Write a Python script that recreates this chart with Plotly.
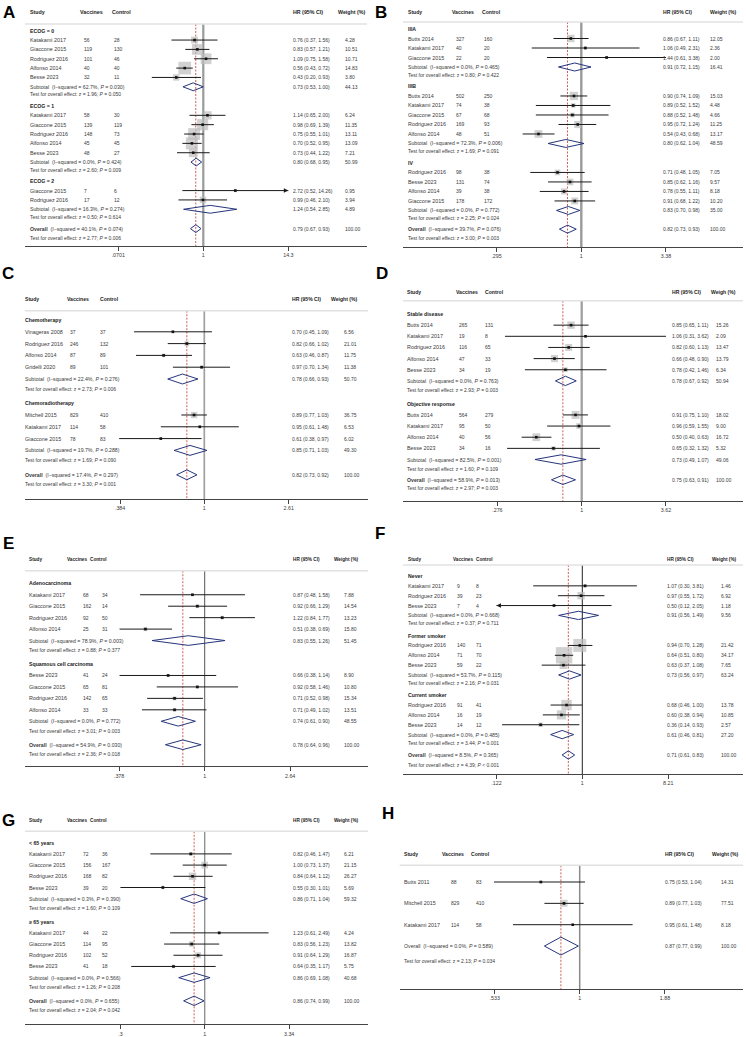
import math
import plotly.graph_objects as go

W, H = 746, 1037
FONT = "Liberation Sans, Arial, Helvetica, sans-serif"

# ---------------- DATA ----------------
# Panel A : ECOG
A_groups = ["ECOG = 0", "ECOG = 1", "ECOG = 2"]
A_study = ["Katakami 2017", "Giaccone 2015", "Rodriguez 2016", "Alfonso 2014", "Besse 2023",
           "Katakami 2017", "Giaccone 2015", "Rodriguez 2016", "Alfonso 2014", "Besse 2023",
           "Giaccone 2015", "Rodriguez 2016"]
A_gidx = [0, 0, 0, 0, 0, 1, 1, 1, 1, 1, 2, 2]
A_vac = [56, 119, 101, 40, 32, 58, 139, 148, 45, 48, 7, 17]
A_ctl = [28, 130, 46, 40, 11, 30, 119, 73, 45, 27, 6, 12]
A_hr = [0.76, 0.83, 1.09, 0.56, 0.43, 1.14, 0.98, 0.75, 0.70, 0.73, 2.72, 0.99]
A_lo = [0.37, 0.57, 0.75, 0.43, 0.20, 0.65, 0.69, 0.55, 0.52, 0.44, 0.52, 0.46]
A_hi = [1.56, 1.21, 1.58, 0.72, 0.93, 2.00, 1.39, 1.01, 0.95, 1.22, 14.26, 2.10]
A_wt = [4.28, 10.51, 10.71, 14.83, 3.80, 6.24, 11.35, 13.11, 13.09, 7.21, 0.95, 3.94]
A_sub_hr = [0.73, 0.80, 1.24]
A_sub_lo = [0.53, 0.68, 0.54]
A_sub_hi = [1.00, 0.95, 2.85]
A_sub_wt = [44.13, 50.99, 4.89]
A_sub_i2 = [62.7, 0.0, 16.3]
A_sub_phet = ["0.030", "0.424", "0.274"]
A_sub_z = [1.96, 2.60, 0.50]
A_sub_pz = ["0.050", "0.009", "0.614"]
A_overall = [0.79, 0.67, 0.93, 100.00]
A_overall_stats = [40.1, "0.074", 2.77, "0.006"]
A_ticks = [0.0701, 1, 14.26]
A_ticklabels = [".0701", "1", "14.3"]

# Panel B : stage
B_groups = ["IIIA", "IIIB", "IV"]
B_study = ["Butts 2014", "Katakami 2017", "Giaccone 2015",
           "Butts 2014", "Katakami 2017", "Giaccone 2015", "Rodriguez 2016", "Alfonso 2014",
           "Rodriguez 2016", "Besse 2023", "Alfonso 2014", "Giaccone 2015"]
B_gidx = [0, 0, 0, 1, 1, 1, 1, 1, 2, 2, 2, 2]
B_vac = [327, 40, 22, 502, 74, 67, 169, 48, 98, 131, 39, 178]
B_ctl = [160, 20, 20, 250, 38, 68, 93, 51, 38, 74, 38, 172]
B_hr = [0.86, 1.06, 1.44, 0.90, 0.89, 0.88, 0.95, 0.54, 0.71, 0.85, 0.78, 0.91]
B_lo = [0.67, 0.49, 0.61, 0.74, 0.52, 0.52, 0.72, 0.43, 0.48, 0.62, 0.55, 0.68]
B_hi = [1.11, 2.31, 3.38, 1.09, 1.52, 1.48, 1.24, 0.68, 1.05, 1.16, 1.11, 1.22]
B_wt = [12.05, 2.36, 2.00, 15.03, 4.48, 4.66, 11.25, 13.17, 7.05, 9.57, 8.18, 10.20]
B_sub_hr = [0.91, 0.80, 0.83]
B_sub_lo = [0.72, 0.62, 0.70]
B_sub_hi = [1.15, 1.04, 0.98]
B_sub_wt = [16.41, 48.59, 35.00]
B_sub_i2 = [0.0, 72.3, 0.0]
B_sub_phet = ["0.465", "0.006", "0.772"]
B_sub_z = [0.80, 1.69, 2.25]
B_sub_pz = ["0.422", "0.091", "0.024"]
B_overall = [0.82, 0.73, 0.93, 100.00]
B_overall_stats = [39.7, "0.076", 3.00, "0.003"]
B_ticks = [0.295, 1, 3.38]
B_ticklabels = [".295", "1", "3.38"]

# Panel C : treatment
C_groups = ["Chemotherapy", "Chemoradiotherapy"]
C_study = ["Vinageras 2008", "Rodriguez 2016", "Alfonso 2014", "Gridelli 2020",
           "Mitchell 2015", "Katakami 2017", "Giaccone 2015"]
C_gidx = [0, 0, 0, 0, 1, 1, 1]
C_vac = [37, 246, 87, 89, 829, 114, 78]
C_ctl = [37, 132, 89, 101, 410, 58, 83]
C_hr = [0.70, 0.82, 0.63, 0.97, 0.89, 0.95, 0.61]
C_lo = [0.45, 0.66, 0.46, 0.70, 0.77, 0.61, 0.38]
C_hi = [1.09, 1.02, 0.87, 1.34, 1.03, 1.48, 0.97]
C_wt = [6.56, 21.01, 11.75, 11.38, 36.75, 6.53, 6.02]
C_sub_hr = [0.78, 0.85]
C_sub_lo = [0.66, 0.71]
C_sub_hi = [0.93, 1.03]
C_sub_wt = [50.70, 49.30]
C_sub_i2 = [22.4, 19.7]
C_sub_phet = ["0.276", "0.288"]
C_sub_z = [2.73, 1.69]
C_sub_pz = ["0.006", "0.090"]
C_overall = [0.82, 0.73, 0.92, 100.00]
C_overall_stats = [17.4, "0.297", 3.30, "0.001"]
C_ticks = [0.384, 1, 2.61]
C_ticklabels = [".384", "1", "2.61"]

# Panel D : response
D_groups = ["Stable disease", "Objective response"]
D_study = ["Butts 2014", "Katakami 2017", "Rodriguez 2016", "Alfonso 2014", "Besse 2023",
           "Butts 2014", "Katakami 2017", "Alfonso 2014", "Besse 2023"]
D_gidx = [0, 0, 0, 0, 0, 1, 1, 1, 1]
D_vac = [265, 19, 116, 47, 34, 564, 95, 40, 34]
D_ctl = [131, 8, 65, 33, 19, 279, 50, 56, 16]
D_hr = [0.85, 1.06, 0.82, 0.66, 0.78, 0.91, 0.96, 0.50, 0.65]
D_lo = [0.65, 0.31, 0.60, 0.48, 0.42, 0.75, 0.59, 0.40, 0.32]
D_hi = [1.11, 3.62, 1.13, 0.90, 1.46, 1.10, 1.55, 0.63, 1.32]
D_wt = [15.26, 2.09, 13.47, 13.79, 6.34, 18.02, 9.00, 16.72, 5.32]
D_sub_hr = [0.78, 0.73]
D_sub_lo = [0.67, 0.49]
D_sub_hi = [0.92, 1.07]
D_sub_wt = [50.94, 49.06]
D_sub_i2 = [0.0, 82.5]
D_sub_phet = ["0.763", "0.001"]
D_sub_z = [2.93, 1.60]
D_sub_pz = ["0.003", "0.109"]
D_overall = [0.75, 0.63, 0.91, 100.00]
D_overall_stats = [58.9, "0.013", 2.97, "0.003"]
D_ticks = [0.276, 1, 3.62]
D_ticklabels = [".276", "1", "3.62"]

# Panel E : histology
E_groups = ["Adenocarcinoma", "Squamous cell carcinoma"]
E_study = ["Katakami 2017", "Giaccone 2015", "Rodriguez 2016", "Alfonso 2014",
           "Besse 2023", "Giaccone 2015", "Rodriguez 2016", "Alfonso 2014"]
E_gidx = [0, 0, 0, 0, 1, 1, 1, 1]
E_vac = [68, 162, 92, 25, 41, 65, 142, 33]
E_ctl = [34, 14, 50, 31, 24, 81, 65, 33]
E_hr = [0.87, 0.92, 1.22, 0.51, 0.66, 0.92, 0.71, 0.71]
E_lo = [0.48, 0.66, 0.84, 0.38, 0.38, 0.58, 0.52, 0.49]
E_hi = [1.58, 1.29, 1.77, 0.69, 1.14, 1.46, 0.98, 1.02]
E_wt = [7.88, 14.54, 13.23, 15.80, 8.90, 10.80, 15.34, 13.51]
E_sub_hr = [0.83, 0.74]
E_sub_lo = [0.55, 0.61]
E_sub_hi = [1.26, 0.90]
E_sub_wt = [51.45, 48.55]
E_sub_i2 = [78.9, 0.0]
E_sub_phet = ["0.003", "0.772"]
E_sub_z = [0.88, 3.01]
E_sub_pz = ["0.377", "0.003"]
E_overall = [0.78, 0.64, 0.96, 100.00]
E_overall_stats = [54.9, "0.030", 2.36, "0.018"]
E_ticks = [0.378, 1, 2.64]
E_ticklabels = [".378", "1", "2.64"]

# Panel F : smoking
F_groups = ["Never", "Former smoker", "Current smoker"]
F_study = ["Katakami 2017", "Rodriguez 2016", "Besse 2023",
           "Rodriguez 2016", "Alfonso 2014", "Besse 2023",
           "Rodriguez 2016", "Alfonso 2014", "Besse 2023"]
F_gidx = [0, 0, 0, 1, 1, 1, 2, 2, 2]
F_vac = [9, 39, 7, 140, 71, 59, 91, 16, 14]
F_ctl = [8, 23, 4, 71, 70, 22, 41, 19, 12]
F_hr = [1.07, 0.97, 0.50, 0.94, 0.64, 0.63, 0.68, 0.60, 0.36]
F_lo = [0.30, 0.55, 0.12, 0.70, 0.51, 0.37, 0.46, 0.38, 0.14]
F_hi = [3.81, 1.72, 2.05, 1.28, 0.80, 1.08, 1.00, 0.94, 0.93]
F_wt = [1.46, 6.92, 1.18, 21.42, 34.17, 7.65, 13.78, 10.85, 2.57]
F_sub_hr = [0.91, 0.73, 0.61]
F_sub_lo = [0.56, 0.56, 0.46]
F_sub_hi = [1.49, 0.97, 0.81]
F_sub_wt = [9.56, 63.24, 27.20]
F_sub_i2 = [0.0, 53.7, 0.0]
F_sub_phet = ["0.668", "0.115", "0.485"]
F_sub_z = [0.37, 2.16, 3.44]
F_sub_pz = ["0.711", "0.031", "0.001"]
F_overall = [0.71, 0.61, 0.83, 100.00]
F_overall_stats = [8.5, "0.365", 4.39, "<0.001"]
F_ticks = [0.122, 1, 8.21]
F_ticklabels = [".122", "1", "8.21"]

# Panel G : age
G_groups = ["&lt; 65 years", "≥ 65 years"]
G_study = ["Katakami 2017", "Giaccone 2015", "Rodriguez 2016", "Besse 2023",
           "Katakami 2017", "Giaccone 2015", "Rodriguez 2016", "Besse 2023"]
G_gidx = [0, 0, 0, 0, 1, 1, 1, 1]
G_vac = [72, 156, 168, 39, 44, 114, 102, 41]
G_ctl = [36, 167, 82, 20, 22, 95, 52, 18]
G_hr = [0.82, 1.00, 0.84, 0.55, 1.23, 0.83, 0.91, 0.64]
G_lo = [0.46, 0.73, 0.64, 0.30, 0.61, 0.56, 0.64, 0.35]
G_hi = [1.47, 1.37, 1.12, 1.01, 2.49, 1.23, 1.29, 1.17]
G_wt = [6.21, 21.15, 26.27, 5.69, 4.24, 13.82, 16.87, 5.75]
G_sub_hr = [0.86, 0.86]
G_sub_lo = [0.71, 0.69]
G_sub_hi = [1.04, 1.08]
G_sub_wt = [59.32, 40.68]
G_sub_i2 = [0.3, 0.0]
G_sub_phet = ["0.390", "0.566"]
G_sub_z = [1.60, 1.26]
G_sub_pz = ["0.109", "0.208"]
G_overall = [0.86, 0.74, 0.99, 100.00]
G_overall_stats = [0.0, "0.655", 2.04, "0.042"]
G_ticks = [0.3, 1, 3.34]
G_ticklabels = [".3", "1", "3.34"]

# Panel H : no subgroups
H_groups = []
H_study = ["Butts 2011", "Mitchell 2015", "Katakami 2017"]
H_gidx = [None, None, None]
H_vac = [88, 829, 114]
H_ctl = [83, 410, 58]
H_hr = [0.75, 0.89, 0.95]
H_lo = [0.53, 0.77, 0.61]
H_hi = [1.04, 1.03, 1.48]
H_wt = [14.31, 77.51, 8.18]
H_sub_hr, H_sub_lo, H_sub_hi, H_sub_wt = [], [], [], []
H_sub_i2, H_sub_phet, H_sub_z, H_sub_pz = [], [], [], []
H_overall = [0.87, 0.77, 0.99, 100.00]
H_overall_stats = [0.0, "0.589", 2.13, "0.034"]
H_ticks = [0.533, 1, 1.88]
H_ticklabels = [".533", "1", "1.88"]

# CIs truncated at the axis with an arrow: panel -> [(study index, side)]
ARROWS = {"A": [(10, "right")], "F": [(2, "left")]}
WEIGHT_HEADER = {"D": "Weigh (%)"}

DATA = {}
for key in "ABCDEFGH":
    g = globals()
    DATA[key] = dict(
        groups=g[key + "_groups"], study=g[key + "_study"], gidx=g[key + "_gidx"],
        vac=g[key + "_vac"], ctl=g[key + "_ctl"], hr=g[key + "_hr"], lo=g[key + "_lo"],
        hi=g[key + "_hi"], wt=g[key + "_wt"],
        sub_hr=g[key + "_sub_hr"], sub_lo=g[key + "_sub_lo"], sub_hi=g[key + "_sub_hi"],
        sub_wt=g[key + "_sub_wt"], sub_i2=g[key + "_sub_i2"], sub_phet=g[key + "_sub_phet"],
        sub_z=g[key + "_sub_z"], sub_pz=g[key + "_sub_pz"],
        overall=g[key + "_overall"], ostats=g[key + "_overall_stats"],
        ticks=g[key + "_ticks"], ticklabels=g[key + "_ticklabels"])

# ---------------- LAYOUT (pixels) ----------------
STRIPS = [(0, 258), (258, 518), (518, 777), (777, 1037)]
LAY = {
    "A": dict(row=0, L=25, R=367, C1=203.3, s=32, y0=30.7, u=9.35, hdr=12.3, line=24, axis=246,
              sp=(0.82, 1.23, 1.25, 0.95), k=3.3, null=("#9a9a9a", 2.2), hfs=5.3,
              cols=(29, 79, 111, 291.5, 336.7, 83.3, 113.3, 344.3), letter=(8.5, 12)),
    "B": dict(row=0, L=403, R=743, C1=581.3, s=69.5, y0=29, u=9.5, hdr=12.3, line=22, axis=247,
              sp=(0.82, 1.23, 1.15, 0.92), k=2.15, null=("#9a9a9a", 2.4), hfs=5.1,
              cols=(407.3, 451.3, 480.7, 662, 709, 454.7, 483, 709), letter=(381, 12)),
    "C": dict(row=1, L=25, R=368, C1=204.3, s=88, y0=320, u=11.8, hdr=299.3, line=310.7, axis=499,
              sp=(0.82, 1.23, 1.25, 0.8), k=1.05, null=("#a0a0a0", 1.7), hfs=5.1,
              cols=(24.3, 65.7, 99, 290.7, 330, 69, 99, 343.3), letter=(8, 273.5)),
    "D": dict(row=1, L=403, R=743, C1=581.7, s=65.5, y0=314, u=11.15, hdr=291.7, line=300.7, axis=501,
              sp=(0.82, 1.23, 1.0, 0.72), k=1.9, null=("#a0a0a0", 2.3), hfs=5.1,
              cols=(406.3, 455, 484, 670.7, 710.3, 458, 484, 714.7), letter=(382, 273.5)),
    "E": dict(row=2, L=25, R=368, C1=204.7, s=88, y0=583.3, u=11.45, hdr=559.3, line=570.7, axis=766.3,
              sp=(0.82, 1.23, 1.23, 0.79), k=1.0, null=("#555555", 1.0), hfs=4.7,
              cols=(28, 65.7, 89, 292.3, 333.3, 82.3, 101, 343.3), letter=(8.3, 543.7)),
    "F": dict(row=2, L=403, R=743, C1=582.3, s=40.8, y0=576, u=9.85, hdr=559.3, line=565, axis=774,
              sp=(0.82, 1.23, 1.25, 0.98), k=2.8, null=("#222222", 1.0), hfs=4.7,
              cols=(407.3, 452, 474.7, 666.3, 711.3, 456.3, 475.3, 719.7), letter=(380.2, 533.7)),
    "G": dict(row=3, L=25, R=368, C1=204.7, s=70, y0=842.7, u=11.2, hdr=820.7, line=831.3, axis=1024.3,
              sp=(0.82, 1.23, 1.25, 0.83), k=1.45, null=("#8a8a8a", 1.3), hfs=4.7,
              cols=(28, 65.7, 89, 292.3, 333.3, 82.3, 101, 343.3), letter=(8.5, 820.7)),
    "H": dict(row=3, L=399.7, R=743, C1=579.7, s=135, y0=882, u=21.35, hdr=854.3, line=865.3, axis=989,
              sp=(0.82, 1.23, 1.0, 0.7), k=0.8, null=("#8a8a8a", 1.5), hfs=5.1,
              cols=(403, 440.7, 469.7, 663.7, 710.7, 449.7, 474.7, 719.7), letter=(388.3, 813.3),
              overall_bold=False),
}

TXT = "#3a3a3a"
DARK = "#222222"
DIAM = "#26357c"
BOX = "#bdbdbd"
RED = "#c0392b"
FS = 5.4      # study names / labels
FS_NUM = 5.0  # numeric columns
FS_TEST = 5.2

fig = go.Figure()
annotations = []
shapes = []
layout_axes = {}


def fmt_ci(h, l, u):
    return f"{h:.2f} ({l:.2f}, {u:.2f})"


def fmt_p(p):
    return "<i>P</i> &lt; " + p[1:] if p.startswith("<") else "<i>P</i> = " + p


def add_text(text, xpx, yv, yref, size=FS, color=TXT, bold=False):
    if bold:
        text = "<b>" + text + "</b>"
    annotations.append(dict(text=text, x=xpx / W, xref="paper", y=yv, yref=yref,
                            showarrow=False, xanchor="left", yanchor="middle",
                            borderpad=0, font=dict(size=size, color=color, family=FONT)))


for n, key in enumerate("ABCDEFGH", start=1):
    d, p = DATA[key], LAY[key]
    xa = "x" if n == 1 else f"x{n}"
    ya = "y" if n == 1 else f"y{n}"
    xl = "xaxis" if n == 1 else f"xaxis{n}"
    yl = "yaxis" if n == 1 else f"yaxis{n}"
    y0, u = p["y0"], p["u"]
    top, bot = STRIPS[p["row"]]

    # row positions (in row units)
    sub_test, test_label, test_overall, overall_test = p["sp"]
    ng = len(d["groups"])
    label_v, sub_v, test_v = [], [], []
    study_v = [0.0] * len(d["study"])
    v = 0.0
    if ng:
        for gi in range(ng):
            label_v.append(v)
            v += 1
            for i, g in enumerate(d["gidx"]):
                if g == gi:
                    study_v[i] = v
                    v += 1
            sub_v.append(v)
            t = v + sub_test
            test_v.append(t)
            v = t + test_label
        overall_v = test_v[-1] + test_overall
    else:
        for i in range(len(d["study"])):
            study_v[i] = v
            v += 1
        overall_v = v - 1 + test_overall
    otest_v = overall_v + overall_test

    def pxv(py):
        return (py - y0) / u

    line_v, axis_v = pxv(p["line"]), pxv(p["axis"])

    # axes
    lnL = (p["L"] - p["C1"]) / p["s"]
    lnR = (p["R"] - p["C1"]) / p["s"]
    layout_axes[xl] = dict(type="log", domain=[p["L"] / W, p["R"] / W],
                           range=[lnL / math.log(10), lnR / math.log(10)],
                           anchor="free", position=1 - p["axis"] / H,
                           showline=True, linecolor="#444444", linewidth=1,
                           ticks="outside", ticklen=4, tickwidth=1, tickcolor="#444444",
                           tickvals=d["ticks"], ticktext=d["ticklabels"],
                           tickfont=dict(size=5.3, color=TXT, family=FONT),
                           showgrid=False, zeroline=False, fixedrange=True)
    layout_axes[yl] = dict(domain=[1 - bot / H, 1 - top / H],
                           range=[(bot - y0) / u, (top - y0) / u],
                           visible=False, anchor=xa, showgrid=False, zeroline=False,
                           fixedrange=True)

    ohr = d["overall"][0]
    # null line and overall dashed line
    fig.add_trace(go.Scatter(x=[1, 1], y=[line_v, axis_v], mode="lines", xaxis=xa, yaxis=ya,
                             line=dict(color=p["null"][0], width=p["null"][1]),
                             hoverinfo="skip", showlegend=False))
    fig.add_trace(go.Scatter(x=[ohr, ohr], y=[line_v, axis_v], mode="lines", xaxis=xa, yaxis=ya,
                             line=dict(color=RED, width=0.8, dash="2px,1.5px"),
                             hoverinfo="skip", showlegend=False))

    # weight boxes
    fig.add_trace(go.Scatter(x=d["hr"], y=study_v, mode="markers", xaxis=xa, yaxis=ya,
                             marker=dict(symbol="square", color=BOX,
                                         size=[p["k"] * math.sqrt(w) for w in d["wt"]],
                                         line=dict(width=0)),
                             hoverinfo="skip", showlegend=False))

    # confidence intervals (clipped with arrows)
    arrows = dict(ARROWS.get(key, []))
    cx, cy, ax_r, ay_r, ax_l, ay_l = [], [], [], [], [], []
    for i in range(len(d["study"])):
        lo, hi = d["lo"][i], d["hi"][i]
        side = arrows.get(i)
        if side == "right":
            hi = d["ticks"][-1]
            ax_r.append(hi)
            ay_r.append(study_v[i])
        elif side == "left":
            lo = d["ticks"][0]
            ax_l.append(lo)
            ay_l.append(study_v[i])
        cx += [lo, hi, None]
        cy += [study_v[i], study_v[i], None]
    fig.add_trace(go.Scatter(x=cx, y=cy, mode="lines", xaxis=xa, yaxis=ya,
                             line=dict(color="#1a1a1a", width=1),
                             hoverinfo="skip", showlegend=False))
    if ax_r:
        fig.add_trace(go.Scatter(x=ax_r, y=ay_r, mode="markers", xaxis=xa, yaxis=ya,
                                 marker=dict(symbol="arrow-right", size=4.5, color="#1a1a1a"),
                                 hoverinfo="skip", showlegend=False))
    if ax_l:
        fig.add_trace(go.Scatter(x=ax_l, y=ay_l, mode="markers", xaxis=xa, yaxis=ya,
                                 marker=dict(symbol="arrow-left", size=4.5, color="#1a1a1a"),
                                 hoverinfo="skip", showlegend=False))
    # point estimates
    fig.add_trace(go.Scatter(x=d["hr"], y=study_v, mode="markers", xaxis=xa, yaxis=ya,
                             marker=dict(symbol="square", color="#111111", size=2.6),
                             hoverinfo="skip", showlegend=False))

    # diamonds
    hh = 0.42
    dx, dy = [], []
    for gi in range(ng):
        h_, l_, u_ = d["sub_hr"][gi], d["sub_lo"][gi], d["sub_hi"][gi]
        r = sub_v[gi]
        dx += [l_, h_, u_, h_, l_, None]
        dy += [r, r - hh, r, r + hh, r, None]
    h_, l_, u_ = d["overall"][0], d["overall"][1], d["overall"][2]
    dx += [l_, h_, u_, h_, l_]
    dy += [overall_v, overall_v - hh, overall_v, overall_v + hh, overall_v]
    fig.add_trace(go.Scatter(x=dx, y=dy, mode="lines", xaxis=xa, yaxis=ya,
                             line=dict(color=DIAM, width=1),
                             hoverinfo="skip", showlegend=False))

    # header separator line
    shapes.append(dict(type="line", xref="paper", yref="paper",
                       x0=p["L"] / W, x1=p["R"] / W,
                       y0=1 - p["line"] / H, y1=1 - p["line"] / H,
                       line=dict(color="#e2e2e2", width=1.6)))

    # text columns
    c_st, c_vh, c_ch, c_hr, c_wh, c_v, c_c, c_w = p["cols"]
    hv = pxv(p["hdr"])
    hfs = p["hfs"]
    add_text("Study", c_st, hv, ya, size=hfs, bold=True, color=DARK)
    add_text("Vaccines", c_vh, hv, ya, size=hfs, bold=True, color=DARK)
    add_text("Control", c_ch, hv, ya, size=hfs, bold=True, color=DARK)
    add_text("HR (95% CI)", c_hr, hv, ya, size=hfs, bold=True, color=DARK)
    add_text(WEIGHT_HEADER.get(key, "Weight (%)"), c_wh, hv, ya, size=hfs, bold=True, color=DARK)

    for gi in range(ng):
        add_text(d["groups"][gi], c_st, label_v[gi], ya, size=5.2, bold=True, color=DARK)
        add_text(f"Subtotal\u00a0 (I\u2212squared = {d['sub_i2'][gi]:.1f}%, {fmt_p(d['sub_phet'][gi])})",
                 c_st, sub_v[gi], ya, size=FS_TEST)
        add_text(fmt_ci(d["sub_hr"][gi], d["sub_lo"][gi], d["sub_hi"][gi]), c_hr, sub_v[gi], ya,
                 size=FS_NUM)
        add_text(f"{d['sub_wt'][gi]:.2f}", c_w, sub_v[gi], ya, size=FS_NUM)
        add_text(f"Test for overall effect: z = {d['sub_z'][gi]:.2f}; {fmt_p(d['sub_pz'][gi])}",
                 c_st, test_v[gi], ya, size=5.0)

    for i in range(len(d["study"])):
        r = study_v[i]
        add_text(d["study"][i], c_st, r, ya)
        add_text(str(d["vac"][i]), c_v, r, ya, size=FS_NUM)
        add_text(str(d["ctl"][i]), c_c, r, ya, size=FS_NUM)
        add_text(fmt_ci(d["hr"][i], d["lo"][i], d["hi"][i]), c_hr, r, ya, size=FS_NUM)
        add_text(f"{d['wt'][i]:.2f}", c_w, r, ya, size=FS_NUM)

    i2, phet, z, pz = d["ostats"]
    lab = "<b>Overall</b>" if p.get("overall_bold", True) else "Overall"
    add_text(f"{lab}\u00a0 (I\u2212squared = {i2:.1f}%, {fmt_p(phet)})", c_st, overall_v, ya,
             size=FS_TEST)
    add_text(fmt_ci(*d["overall"][:3]), c_hr, overall_v, ya, size=FS_NUM)
    add_text(f"{d['overall'][3]:.2f}", c_w, overall_v, ya, size=FS_NUM)
    add_text(f"Test for overall effect: z = {z:.2f}; {fmt_p(pz)}", c_st, otest_v, ya, size=5.0)

    # panel letter
    lx, ly = p["letter"]
    annotations.append(dict(text="<b>" + key + "</b>", x=lx / W, y=1 - ly / H,
                            xref="paper", yref="paper", showarrow=False,
                            xanchor="center", yanchor="middle",
                            font=dict(size=17, color="#000000", family=FONT)))

fig.update_layout(width=W, height=H, margin=dict(l=0, r=0, t=0, b=0),
                  paper_bgcolor="white", plot_bgcolor="rgba(0,0,0,0)",
                  showlegend=False, annotations=annotations, shapes=shapes,
                  **layout_axes)

fig.write_html("out.html", config={"displayModeBar": False, "staticPlot": True},
               post_script="document.body.style.margin='0';")
